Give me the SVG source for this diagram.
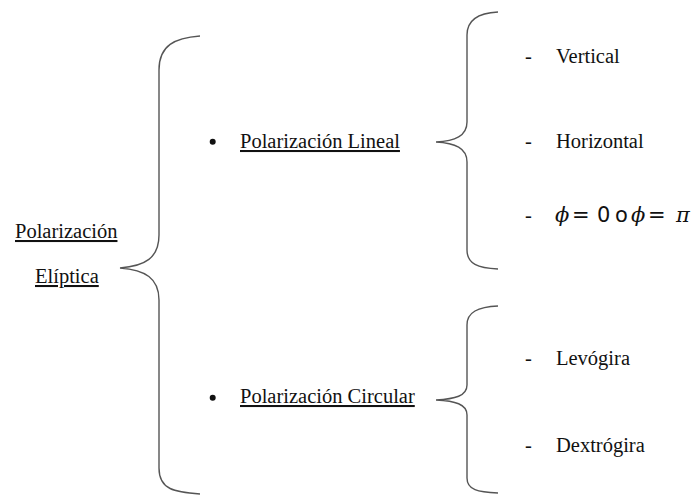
<svg xmlns="http://www.w3.org/2000/svg" width="693" height="497" viewBox="0 0 693 497">
<style>
text{fill:#111}
.t{font-family:'Liberation Serif','DejaVu Serif',serif;font-size:20.5px}
.u{text-decoration:underline}
.m{font-family:'DejaVu Sans','Liberation Sans',sans-serif;font-size:21px}
.mi{font-family:'DejaVu Serif','Liberation Serif',serif;font-style:italic;font-size:21px}
.br{fill:none;stroke:#555;stroke-width:1.4}
</style>
<rect width="693" height="497" fill="#fff"/>
<g id="connectors">
<path class="br" d="M200,36 C175,38 159,45 159,70 L159,235 C159,258 145,266 120,268 C145,270 159,278 159,300 L159,468 C159,490 175,492 200,494"/>
<path class="br" d="M498,12 C478,13 467,20 467,35 L467,122 C467,136 455,141 436,142 C455,143 467,148 467,162 L467,250 C467,264 478,268 498,269"/>
<path class="br" d="M498,306 C478,307 467,312 467,325 L467,385 C467,396 455,399 436,400 C455,401 467,404 467,415 L467,478 C467,490 478,492 498,493"/>
</g>
<g id="root">
<text class="t u" font-family="Liberation Serif" x="15" y="238">Polarización</text>
<text class="t u" font-family="Liberation Serif" x="35" y="283">Elíptica</text>
</g>
<g id="lineal">
<circle cx="212.7" cy="141.7" r="3" fill="#111"/>
<text class="t u" x="240" y="148">Polarización Lineal</text>
</g>
<g id="circular">
<circle cx="212.7" cy="397.7" r="3" fill="#111"/>
<text class="t u" x="240" y="403">Polarización Circular</text>
</g>
<g id="vertical">
<text class="t" x="525" y="63">-</text>
<text class="t" x="556" y="63">Vertical</text>
</g>
<g id="horizontal">
<text class="t" x="525" y="148">-</text>
<text class="t" x="556" y="148">Horizontal</text>
</g>
<g id="phi">
<text class="t" x="525" y="222">-</text>
<text class="mi" x="555" y="222">ϕ</text>
<text class="m" x="572" y="222">=</text>
<text class="m" x="597" y="222">0</text>
<text class="m" x="615" y="222">o</text>
<text class="mi" x="631" y="222">ϕ</text>
<text class="m" x="648" y="222">=</text>
<text class="mi" x="676" y="222">π</text>
</g>
<g id="levogira">
<text class="t" x="525" y="365">-</text>
<text class="t" x="556" y="365">Levógira</text>
</g>
<g id="dextrogira">
<text class="t" x="525" y="452">-</text>
<text class="t" x="556" y="452">Dextrógira</text>
</g>
</svg>
